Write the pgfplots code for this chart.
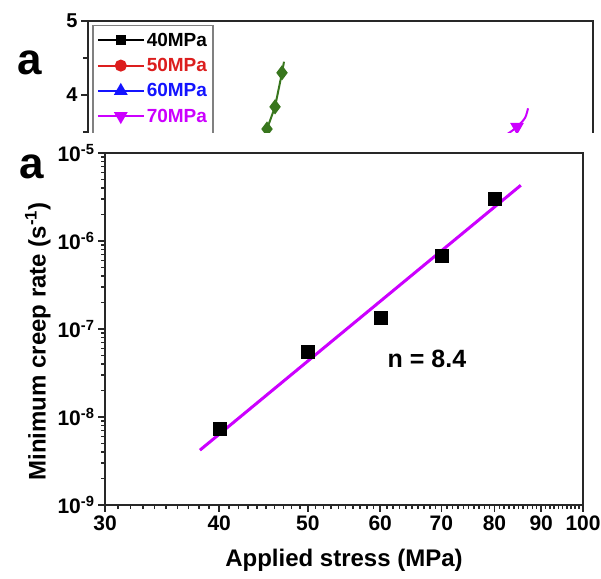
\documentclass[border=0pt]{standalone}
\usepackage{fontspec}
\setmainfont{Liberation Sans}
\usepackage{pgfplots}
\pgfplotsset{compat=1.18}
\definecolor{vio}{RGB}{204,0,255}
\definecolor{dgreen}{RGB}{56,118,29}
\definecolor{lblue}{RGB}{20,20,255}
\definecolor{lred}{RGB}{220,30,30}
\definecolor{axgray}{RGB}{40,40,40}

\begin{document}
\begin{tikzpicture}[x=1pt,y=1pt]
\useasboundingbox (0,0) rectangle (601,578);

% panel behind: only its top strip is visible
\begin{scope}
\clip (0,445) rectangle (601,578);
\node[font=\fontsize{44}{44}\selectfont\bfseries, inner sep=0pt] at (30,515) {a};
\begin{axis}[
    at={(88pt,409pt)}, anchor=south west, scale only axis,
    width=505pt, height=148pt,
    xmin=0, xmax=505, ymin=3, ymax=5,
    xtick=\empty, ytick={4,5}, yticklabels={4,5},
    minor ytick={3.5,4.5},
    tick pos=left, tick align=outside,
    major tick length=7pt, minor tick length=5pt,
    axis line style={line width=2pt, draw=axgray},
    every tick/.style={axgray, line width=1.5pt},
    yticklabel style={font=\fontsize{20}{20}\selectfont\bfseries},
    legend style={at={(0.008,0.975)}, anchor=north west, draw=gray,
        line width=1.5pt, font=\fontsize{19}{20}\selectfont\bfseries,
        row sep=6.5pt, inner xsep=4pt, inner ysep=5.5pt},
    legend cell align=left,
    legend image code/.code={
        \draw[mark=none] (0pt,0pt) -- (46pt,0pt);
        \draw[mark indices={1}] plot coordinates {(23pt,0pt)};},
]
\addlegendimage{black, line width=2pt, mark=square*, mark size=4pt}
\addlegendentry{40MPa}
\addlegendimage{lred, line width=2pt, mark=*, mark size=5pt}
\addlegendentry{\textcolor{lred}{50MPa}}
\addlegendimage{lblue, line width=2pt, mark=triangle*, mark size=6pt}
\addlegendentry{\textcolor{lblue}{60MPa}}
\addplot[vio, line width=2pt, mark=triangle*, mark size=6pt,
    mark options={rotate=180}, mark indices={3}, smooth]
    coordinates {(440,3.82)(437,3.69)(429,3.57)(419,3.47)(407,3.39)};
\addlegendentry{\textcolor{vio}{70MPa}}
\addplot[dgreen, line width=2pt, mark=diamond*, mark size=6pt,
    mark indices={2,3,4,5}]
    coordinates {(196,4.45)(194,4.30)(187,3.84)(179,3.54)(170,3.26)};
\addlegendentry{\textcolor{dgreen!70}{80MPa}}
\end{axis}
\end{scope}

% front panel
\node[font=\fontsize{44}{44}\selectfont\bfseries, inner sep=0pt] at (32,411) {a};
\begin{axis}[
    at={(105pt,73pt)}, anchor=south west, scale only axis,
    width=478pt, height=352pt,
    xmode=log, ymode=log,
    xmin=30, xmax=100, ymin=1e-9, ymax=1e-5,
    xtick={30,40,50,60,70,80,90,100},
    xticklabels={30,40,50,60,70,80,90,100},
    minor xtick={31,...,39,41,42,...,49,51,52,...,59,61,62,...,69,71,72,...,79,81,82,...,89,91,92,...,99},
    ytick={1e-9,1e-8,1e-7,1e-6,1e-5},
    yticklabels={10\textsuperscript{-9},10\textsuperscript{-8},10\textsuperscript{-7},10\textsuperscript{-6},10\textsuperscript{-5}},
    minor ytick={2e-9,3e-9,4e-9,5e-9,6e-9,7e-9,8e-9,9e-9,
                 2e-8,3e-8,4e-8,5e-8,6e-8,7e-8,8e-8,9e-8,
                 2e-7,3e-7,4e-7,5e-7,6e-7,7e-7,8e-7,9e-7,
                 2e-6,3e-6,4e-6,5e-6,6e-6,7e-6,8e-6,9e-6},
    tick pos=left, tick align=outside,
    major tick length=7pt, minor tick length=4pt,
    axis line style={line width=2pt, draw=axgray},
    every tick/.style={axgray, line width=1.5pt},
    ticklabel style={font=\fontsize{21}{21}\selectfont\bfseries},
    xlabel={Applied stress (MPa)},
    ylabel={Minimum creep rate (s\textsuperscript{-1})},
    label style={font=\fontsize{24}{24}\selectfont\bfseries},
    xlabel style={yshift=-12pt},
    ylabel style={at={(ticklabel cs:0.465)}},
]
\addplot[vio, line width=3pt] coordinates {(38.1,4.2e-9)(85.5,4.3e-6)};
\addplot[only marks, mark=square*, mark size=6.5pt, black]
    coordinates {(40,7.3e-9)(50,5.5e-8)(60,1.35e-7)(70,6.8e-7)(80,3.0e-6)};
\node[font=\fontsize{25}{25}\selectfont\bfseries] at (axis cs:67.5,4.56e-8) {n = 8.4};
\end{axis}
\end{tikzpicture}
\end{document}
